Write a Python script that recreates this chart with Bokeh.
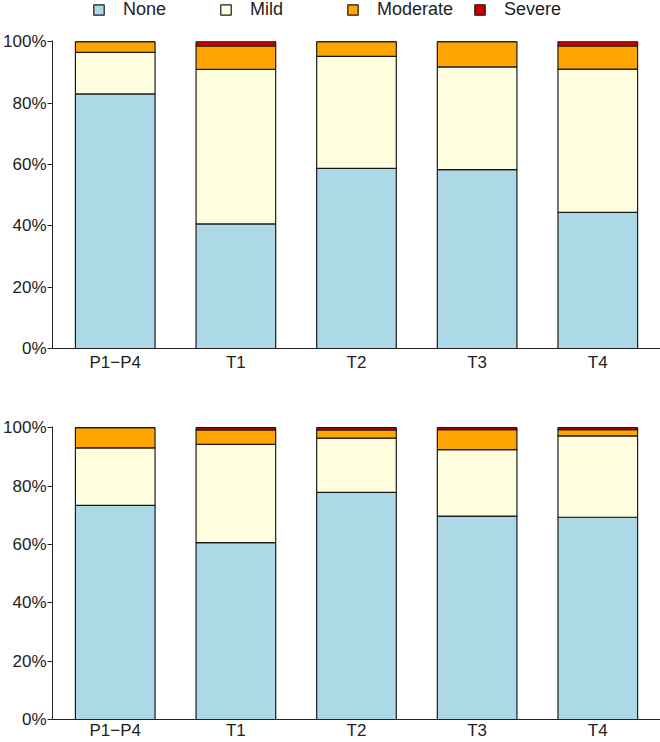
from bokeh.plotting import figure
from bokeh.models import (ColumnDataSource, Range1d, FixedTicker, NumeralTickFormatter,
                          Legend, LegendItem)
from bokeh.layouts import column
from bokeh.embed import file_html
from bokeh.resources import INLINE

# ---- data (percent of each group) ----
categories = ["P1\u2212P4", "T1", "T2", "T3", "T4"]
severity = ["None", "Mild", "Moderate", "Severe"]

top_none = [83.0, 40.6, 58.7, 58.3, 44.4]
top_mild = [13.5, 50.4, 36.5, 33.5, 46.7]
top_moderate = [3.5, 7.6, 4.8, 8.2, 7.5]
top_severe = [0.0, 1.4, 0.0, 0.0, 1.4]

bottom_none = [73.4, 60.6, 77.8, 69.7, 69.3]
bottom_mild = [19.7, 33.7, 18.6, 22.8, 27.9]
bottom_moderate = [6.9, 4.9, 2.8, 6.8, 2.1]
bottom_severe = [0.0, 0.8, 0.8, 0.7, 0.7]

y_ticks = [0, 0.2, 0.4, 0.6, 0.8, 1.0]

colors = ["#ADD8E6", "#FFFFE0", "#FFA500", "#CD0000"]
FONT = "Liberation Sans"
TEXT = "#222222"
AXIS = "#222222"
EDGE = "#1a1a1a"
W = 660
X_RANGE = (-0.52, 4.52)
BAR_W = 0.66


def make_source(values):
    data = dict(x=list(range(len(categories))))
    for name, vals in zip(severity, values):
        data[name] = [v / 100.0 for v in vals]
    return ColumnDataSource(data)


def make_panel(src, height, border_top, border_bottom, x_standoff):
    p = figure(width=W, height=height, output_backend="svg", toolbar_location=None,
               x_range=Range1d(*X_RANGE), y_range=Range1d(0, 1.004),
               min_border_left=50, min_border_right=0,
               min_border_top=border_top, min_border_bottom=border_bottom)
    p.outline_line_color = None
    p.xgrid.visible = False
    p.ygrid.visible = False
    p.background_fill_color = "white"
    p.border_fill_color = "white"

    rs = p.vbar_stack(severity, x="x", width=BAR_W, source=src, fill_color=colors,
                      line_color=EDGE, line_width=1.2)

    # x axis
    xa = p.xaxis[0]
    xa.ticker = FixedTicker(ticks=list(range(len(categories))))
    xa.major_label_overrides = {i: c for i, c in enumerate(categories)}
    xa.major_tick_line_color = None
    xa.major_tick_out = 0
    xa.minor_tick_line_color = None
    xa.major_label_standoff = x_standoff
    xa.axis_line_color = AXIS
    xa.axis_line_width = 1
    xa.major_label_text_font = FONT
    xa.major_label_text_font_size = "17px"
    xa.major_label_text_color = TEXT

    # y axis
    ya = p.yaxis[0]
    ya.ticker = FixedTicker(ticks=y_ticks)
    ya.formatter = NumeralTickFormatter(format="0%")
    ya.minor_tick_line_color = None
    ya.major_tick_out = 5
    ya.major_tick_in = 0
    ya.major_tick_line_color = AXIS
    ya.major_label_standoff = 1
    ya.axis_line_color = AXIS
    ya.axis_line_width = 1
    ya.major_label_text_font = FONT
    ya.major_label_text_font_size = "17px"
    ya.major_label_text_color = TEXT
    return p, rs


src_top = make_source([top_none, top_mild, top_moderate, top_severe])
src_bottom = make_source([bottom_none, bottom_mild, bottom_moderate, bottom_severe])

# ---- legend strip (hidden renderers that only feed the legend) ----
pl = figure(width=W, height=20, output_backend="svg", toolbar_location=None,
            x_range=Range1d(*X_RANGE), y_range=Range1d(0, 1.004),
            x_axis_type=None, y_axis_type=None,
            min_border_left=50, min_border_right=0, min_border_top=0, min_border_bottom=0)
pl.outline_line_color = None
pl.xgrid.visible = False
pl.ygrid.visible = False
rl = pl.vbar_stack(severity, x="x", width=BAR_W, source=src_top, fill_color=colors,
                   line_color=EDGE, line_width=1.2)
for r in rl:
    r.visible = False
legend = Legend(items=[LegendItem(label=s, renderers=[r]) for s, r in zip(severity, rl)],
                orientation="horizontal", location=(40, 0), click_policy="none",
                label_width=96, spacing=0, glyph_width=13, glyph_height=13,
                label_standoff=18, padding=0, margin=0,
                inactive_fill_alpha=0,
                border_line_color=None, background_fill_alpha=0,
                label_text_font=FONT, label_text_font_size="18px",
                label_text_color=TEXT)
pl.add_layout(legend)

p1, rs1 = make_panel(src_top, 358, 20, 30, 4)
p2, rs2 = make_panel(src_bottom, 364, 48, 21, 1)

layout = column(pl, p1, p2, spacing=0)

open("out.html", "w").write(file_html(layout, INLINE))
